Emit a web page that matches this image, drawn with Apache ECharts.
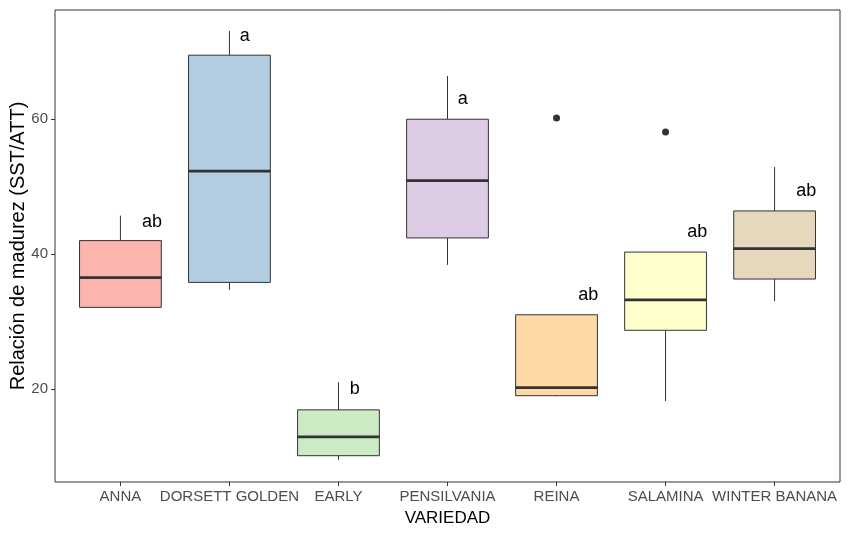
<!DOCTYPE html>
<html>
<head>
<meta charset="utf-8">
<script src="https://cdn.jsdelivr.net/npm/echarts@6/dist/echarts.min.js"></script>
<style>
  html, body { margin: 0; padding: 0; background: #fff; }
  #chart { width: 850px; height: 537px; }
</style>
</head>
<body>
<div id="chart"></div>
<script>
// variedades y estadisticos de cada caja
const categories = ['ANNA', 'DORSETT GOLDEN', 'EARLY', 'PENSILVANIA', 'REINA', 'SALAMINA', 'WINTER BANANA']
const lowWhisker = [32.1, 34.7, 9.5, 38.4, 18.9, 18.2, 33.0]
const q1 = [32.1, 35.8, 10.1, 42.4, 19.0, 28.7, 36.3]
const median = [36.5, 52.3, 12.9, 50.9, 20.2, 33.2, 40.8]
const q3 = [42.0, 69.5, 16.9, 60.0, 31.0, 40.3, 46.4]
const highWhisker = [45.7, 73.1, 21.0, 66.4, 31.0, 40.3, 52.9]
const fillColors = ['#FBB4AE', '#B3CDE3', '#CCEBC5', '#DECBE4', '#FED9A6', '#FFFFCC', '#E5D8BD']

// puntos atipicos: [indice de variedad, valor]
const outlierCat = [5, 6]
const outlierVal = [60.2, 58.1]

// letras de significancia
const letters = ['ab', 'a', 'b', 'a', 'ab', 'ab', 'ab']
const letterX = [1.29, 2.14, 3.15, 4.14, 5.29, 6.29, 7.29]
const letterY = [44.8, 72.4, 20.0, 63.0, 33.9, 43.3, 49.3]

const yTicks = [20, 40, 60]
const xTicks = [1, 2, 3, 4, 5, 6, 7]

const font = 'Liberation Sans, Arial, sans-serif'

const boxData = categories.map((c, i) => [i + 1, lowWhisker[i], q1[i], median[i], q3[i], highWhisker[i]])

const renderBox = (params, api) => {
  const x = api.value(0)
  const idx = params.dataIndex
  const half = api.size([0.75, 0])[0] / 2
  const pLow = api.coord([x, api.value(1)])
  const pQ1 = api.coord([x, api.value(2)])
  const pMed = api.coord([x, api.value(3)])
  const pQ3 = api.coord([x, api.value(4)])
  const pHigh = api.coord([x, api.value(5)])
  const stroke = { stroke: '#333333', lineWidth: 1 }
  return {
    type: 'group',
    children: [
      { type: 'line', shape: { x1: pHigh[0], y1: pHigh[1], x2: pQ3[0], y2: pQ3[1] }, style: stroke },
      { type: 'line', shape: { x1: pQ1[0], y1: pQ1[1], x2: pLow[0], y2: pLow[1] }, style: stroke },
      {
        type: 'rect',
        shape: { x: pQ3[0] - half, y: pQ3[1], width: half * 2, height: pQ1[1] - pQ3[1] },
        style: { fill: fillColors[idx], stroke: '#333333', lineWidth: 1 }
      },
      {
        type: 'line',
        shape: { x1: pMed[0] - half, y1: pMed[1], x2: pMed[0] + half, y2: pMed[1] },
        style: { stroke: '#333333', lineWidth: 2.8 }
      }
    ]
  }
}

// letras como texto en la posicion de los datos
const renderLetter = (params, api) => {
  const p = api.coord([api.value(0), api.value(1)])
  return {
    type: 'text',
    x: p[0],
    y: p[1],
    style: {
      text: letters[params.dataIndex],
      fill: '#000000',
      font: '18px ' + font,
      align: 'center',
      verticalAlign: 'middle'
    }
  }
}

const myChart = echarts.init(document.getElementById('chart'))

const option = {
  animation: false,
  backgroundColor: '#ffffff',
  grid: {
    left: 55,
    right: 10,
    top: 10,
    bottom: 55,
    outerBoundsMode: 'none',
    containLabel: false,
    show: true,
    borderColor: '#333333',
    borderWidth: 1,
    backgroundColor: 'transparent'
  },
  xAxis: {
    type: 'value',
    min: 0.4,
    max: 7.6,
    name: 'VARIEDAD',
    nameLocation: 'middle',
    nameGap: 28,
    nameTextStyle: { fontFamily: font, fontSize: 17, color: '#000000' },
    axisLine: { show: false },
    splitLine: { show: false },
    axisTick: { show: true, customValues: xTicks, length: 4, lineStyle: { color: '#333333' } },
    axisLabel: {
      customValues: xTicks,
      formatter: v => categories[Math.round(v) - 1] || '',
      fontFamily: font,
      fontSize: 15,
      color: '#4D4D4D',
      margin: 7
    }
  },
  yAxis: {
    type: 'value',
    min: 6.2,
    max: 76.2,
    name: 'Relación de madurez (SST/ATT)',
    nameLocation: 'middle',
    nameGap: 27,
    nameMoveOverlap: false,
    nameTextStyle: { fontFamily: font, fontSize: 20, color: '#000000' },
    axisLine: { show: false },
    splitLine: { show: false },
    axisTick: { show: true, customValues: yTicks, length: 4, lineStyle: { color: '#333333' } },
    axisLabel: {
      customValues: yTicks,
      fontFamily: font,
      fontSize: 15,
      color: '#4D4D4D',
      margin: 7
    }
  },
  series: [
    {
      type: 'custom',
      renderItem: renderBox,
      encode: { x: 0, y: [1, 2, 3, 4, 5] },
      data: boxData,
      z: 2
    },
    {
      type: 'scatter',
      symbol: 'circle',
      symbolSize: 7,
      itemStyle: { color: '#333333', opacity: 1 },
      data: outlierCat.map((c, i) => [c, outlierVal[i]]),
      z: 3
    },
    {
      type: 'custom',
      renderItem: renderLetter,
      encode: { x: 0, y: 1 },
      data: letters.map((l, i) => [letterX[i], letterY[i]]),
      z: 4
    }
  ]
}

myChart.setOption(option)
</script>
</body>
</html>
